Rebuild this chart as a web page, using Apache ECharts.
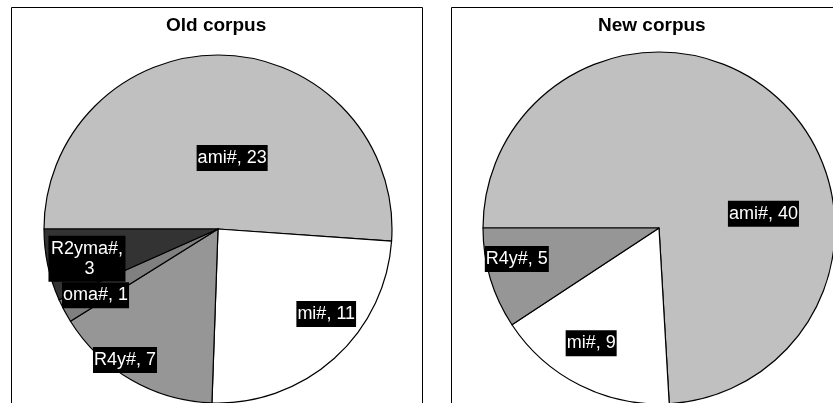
<!DOCTYPE html>
<html>
<head>
<meta charset="utf-8">
<script src="https://cdn.jsdelivr.net/npm/echarts@6/dist/echarts.min.js"></script>
<style>
html,body{margin:0;padding:0;background:#fff;}
#c{width:833px;height:403px;}
</style>
</head>
<body>
<div id="c"></div>
<script>
// Data
const oldCategories = ['ami#', 'mi#', 'R4y#', 'oma#', 'R2yma#'];
const oldValues = [23, 11, 7, 1, 3];
const newCategories = ['ami#', 'mi#', 'R4y#'];
const newValues = [40, 9, 5];
const titles = ['Old corpus', 'New corpus'];

// Styling (kept separate from data)
const colorMap = {'ami#': '#c0c0c0', 'mi#': '#ffffff', 'R4y#': '#969696', 'oma#': '#808080', 'R2yma#': '#333333'};
const oldNudge = [[11, 19], [48, 18], [-48, 53], [-43, 24], [-43, 11]];
const newNudge = [[42, 52], [-27, 34], [-55, 5]];

function buildData(cats, vals) {
  return cats.map((c, i) => {
    const item = {name: c, value: vals[i], itemStyle: {color: colorMap[c]}};
    if (c === 'R2yma#') item.label = {width: 75, overflow: 'break', align: 'center'};
    return item;
  });
}

const labelStyle = {
  show: true,
  position: 'inside',
  formatter: '{b}, {c}',
  color: '#ffffff',
  backgroundColor: '#000000',
  fontFamily: 'Liberation Sans, Arial, sans-serif',
  fontSize: 18,
  lineHeight: 20,
  padding: [3, 1, 3, 1]
};

const chart = echarts.init(document.getElementById('c'), null, {renderer: 'canvas'});
chart.setOption({
  animation: false,
  backgroundColor: '#ffffff',
  graphic: [
    {type: 'rect', shape: {x: 11.5, y: 7.5, width: 411, height: 420}, style: {fill: '#ffffff', stroke: '#000', lineWidth: 1}, z: -10},
    {type: 'rect', shape: {x: 451.5, y: 7.5, width: 420, height: 420}, style: {fill: '#ffffff', stroke: '#000', lineWidth: 1}, z: -10}
  ],
  title: [
    {text: titles[0], left: 166, top: 16, textStyle: {fontFamily: 'Liberation Sans, Arial, sans-serif', fontSize: 19, fontWeight: 'bold', color: '#000'}, padding: 0},
    {text: titles[1], left: 598, top: 16, textStyle: {fontFamily: 'Liberation Sans, Arial, sans-serif', fontSize: 19, fontWeight: 'bold', color: '#000'}, padding: 0}
  ],
  series: [
    {
      type: 'pie',
      center: [218, 229],
      radius: [0, 174],
      startAngle: 180,
      clockwise: true,
      avoidLabelOverlap: false,
      label: labelStyle,
      labelLine: {show: false},
      itemStyle: {borderColor: '#000', borderWidth: 1.2},
      emphasis: {disabled: true},
      labelLayout: function (p) { const n = oldNudge[p.dataIndex]; return {dx: n[0], dy: n[1]}; },
      data: buildData(oldCategories, oldValues)
    },
    {
      type: 'pie',
      center: [659, 228],
      radius: [0, 176],
      startAngle: 180,
      clockwise: true,
      avoidLabelOverlap: false,
      label: labelStyle,
      labelLine: {show: false},
      itemStyle: {borderColor: '#000', borderWidth: 1.2},
      emphasis: {disabled: true},
      labelLayout: function (p) { const n = newNudge[p.dataIndex]; return {dx: n[0], dy: n[1]}; },
      data: buildData(newCategories, newValues)
    }
  ]
});
</script>
</body>
</html>
